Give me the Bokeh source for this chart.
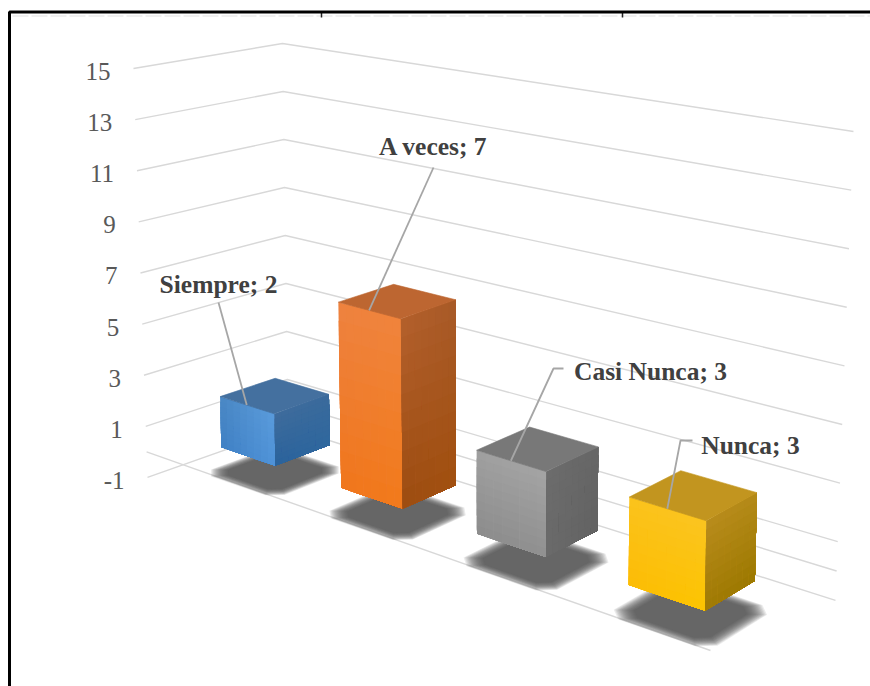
from bokeh.plotting import figure
from bokeh.models import Range1d
from bokeh.core.properties import value
from bokeh.embed import file_html
from bokeh.resources import INLINE

# ---- data ----
categories = ["Siempre", "A veces", "Casi Nunca", "Nunca"]
values = [2, 7, 3, 3]
tick_values = [15, 13, 11, 9, 7, 5, 3, 1, -1]

# ---- layout / style ----
W, H = 870, 686
FONT = value("Liberation Serif")
BAR_HALF_S, BAR_HALF_T, BAR_T = 0.0585, 0.195, 0.505
label_anchor = [(218, 284), (433, 146), (650, 371), (750, 445)]
leader_elbow = [None, None, (553, 368), (680, 440)]
leader_start = [(218, 302), (433, 167), (563, 368), (692, 440)]
face_colors = [
    # front (tl, tr, bl, br), side (tl, tr, bl, br), top
    (("#4a87c4", "#5a9bdc", "#3f80c4", "#4f93d8"), ("#3f6c9c", "#3a6a9c", "#2a629c", "#2f689e"), "#44709f"),
    (("#ee8240", "#f0843c", "#f0761c", "#f27a1a"), ("#b4602c", "#a85a28", "#9c4c10", "#a2500f"), "#bd6631"),
    (("#a0a0a0", "#a4a4a4", "#8c8c8c", "#909090"), ("#6c6c6c", "#666666", "#6a6a6a", "#626262"), "#787878"),
    (("#fbc31c", "#fbc420", "#fcbc06", "#fcc400"), ("#b98c1c", "#b48a18", "#a07a04", "#9c7800"), "#c2951f"),
]
SHADOW = "#4e4e4e"


def lvl(v):
    """Corners of the floor quad at value level v: left, apex, right, front."""
    a = (146.1 - 0.875 * v, 451.4 - 25.56 * v)
    b = (287.2 - 0.35 * v, 403.0 - 24.0 * v)
    c = (836.1 + 1.125 * v, 570.5 - 29.3 * v)
    d = (710.0 + 0.1 * v, 650.0 - 31.0 * v)
    return a, b, c, d


def warp(s):
    return 0.0032 + 0.77 * s + 0.228 * s * s


def proj(s, t, v):
    a, b, c, d = lvl(v)
    f = warp(s)
    lx, ly = a[0] + t * (b[0] - a[0]), a[1] + t * (b[1] - a[1])
    rx, ry = d[0] + t * (c[0] - d[0]), d[1] + t * (c[1] - d[1])
    return lx + f * (rx - lx), ly + f * (ry - ly)


def hex2rgb(h):
    return tuple(int(h[i:i + 2], 16) for i in (1, 3, 5))


def mix(tl, tr, bl, br, u, w):
    out = []
    for k in range(3):
        top = tl[k] + u * (tr[k] - tl[k])
        bot = bl[k] + u * (br[k] - bl[k])
        out.append(int(round(top + w * (bot - top))))
    return "#%02x%02x%02x" % tuple(out)


def cut_corners(points, f=0.13):
    new = []
    n = len(points)
    for j in range(n):
        x0, y0 = points[j]
        x1, y1 = points[(j + 1) % n]
        new.append(((1 - f) * x0 + f * x1, (1 - f) * y0 + f * y1))
        new.append((f * x0 + (1 - f) * x1, f * y0 + (1 - f) * y1))
    return new


p = figure(width=W, height=H, x_range=Range1d(0, W), y_range=Range1d(H, 0),
           output_backend="svg", toolbar_location=None, min_border=0,
           background_fill_color="white", border_fill_color="white")
p.axis.visible = False
p.xgrid.visible = False
p.ygrid.visible = False
p.outline_line_color = None

# cut-off line of text above the frame
p.line([12, 870], [15.5, 15.5], line_color="#f0f0f0", line_width=2, line_dash="16 3")
p.line([321, 321], [12, 17], line_color="#222222", line_width=1.5)
p.line([622, 622], [12, 17], line_color="#222222", line_width=1.5)

# frame of the scanned picture
p.line([9, 9, 870], [686, 11.5, 11.5], line_color="black", line_width=3)

# gridlines on both walls
GRID = "#d8d8d8"
for v in tick_values + [0]:
    a, b, c, d = lvl(v)
    if v == 0:
        p.line([b[0], c[0]], [b[1], c[1]], line_color=GRID, line_width=1.4)
    else:
        p.line([a[0], b[0], c[0]], [a[1], b[1], c[1]], line_color=GRID, line_width=1.4)
a0, _, _, d0 = lvl(0)
p.line([a0[0], d0[0]], [a0[1], d0[1]], line_color=GRID, line_width=1.4)

# value-axis tick labels
tx, ty, tt = [], [], []
for v in tick_values:
    a = lvl(v)[0]
    tx.append(a[0] - 23)
    ty.append(a[1] + 3)
    tt.append(str(v))
p.text(tx, ty, text=tt, text_font=FONT, text_font_size="25px", text_color="#595959",
       text_align="right", text_baseline="middle")

# floor shadows (soft edge from nested translucent layers)
for i in range(len(values)):
    s = (i + 0.5) / len(values)
    base = [proj(s - BAR_HALF_S, BAR_T - BAR_HALF_T, -1), proj(s + BAR_HALF_S, BAR_T - BAR_HALF_T, -1),
            proj(s + BAR_HALF_S, BAR_T + BAR_HALF_T, -1), proj(s - BAR_HALF_S, BAR_T + BAR_HALF_T, -1)]
    cx = sum(q[0] for q in base) / 4
    cy = sum(q[1] for q in base) / 4
    LAYERS = 16
    for k in range(LAYERS):
        sc = 1.36 - k * 0.024
        q = cut_corners([(cx - 1 + (z[0] - cx) * sc, cy + (z[1] - cy) * sc) for z in base])
        p.patch([z[0] for z in q], [z[1] for z in q], fill_color=SHADOW, fill_alpha=0.115, line_color=None)

# bars
NX, NY = 8, 10
for i, val in enumerate(values):
    s = (i + 0.5) / len(values)
    s0, s1 = s - BAR_HALF_S, s + BAR_HALF_S
    t0, t1 = BAR_T - BAR_HALF_T, BAR_T + BAR_HALF_T
    front, side, top = face_colors[i]
    for (a_, b_), cols in (
        (((s0, t0), (s1, t0)), front),
        (((s1, t0), (s1, t1)), side),
    ):
        tl, tr, bl, br = [hex2rgb(x) for x in cols]
        # each step repaints everything still to come, so no seams show between steps
        for m in range(NX):
            for n in range(NY):
                u0, w0 = m / NX, n / NY
                pts = []
                for u, w in ((u0, w0), (1, w0), (1, 1), (u0, 1)):
                    pts.append(proj(a_[0] + u * (b_[0] - a_[0]), a_[1] + u * (b_[1] - a_[1]), val * (1 - w)))
                col = mix(tl, tr, bl, br, u0 + 0.5 / NX, w0 + 0.5 / NY)
                p.patch([q[0] for q in pts], [q[1] for q in pts], fill_color=col, line_color=None)
    q = [proj(s0, t0, val), proj(s1, t0, val), proj(s1, t1, val), proj(s0, t1, val)]
    p.patch([z[0] for z in q], [z[1] for z in q], fill_color=top, line_color=top, line_width=0.6)

# leaders and data labels
for i, val in enumerate(values):
    s = (i + 0.5) / len(values)
    ex, ey = proj(s, BAR_T - BAR_HALF_T, val)
    xs = [leader_start[i][0]]
    ys = [leader_start[i][1]]
    if leader_elbow[i]:
        xs.append(leader_elbow[i][0])
        ys.append(leader_elbow[i][1])
    xs.append(ex)
    ys.append(ey)
    p.line(xs, ys, line_color="#a6a6a6", line_width=1.8)
    p.text([label_anchor[i][0]], [label_anchor[i][1]], text=[f"{categories[i]}; {val}"], text_font=FONT,
           text_font_size="25.5px", text_font_style="bold", text_color="#404040",
           text_align="center", text_baseline="middle")

open("out.html", "w").write(file_html(p, INLINE))
